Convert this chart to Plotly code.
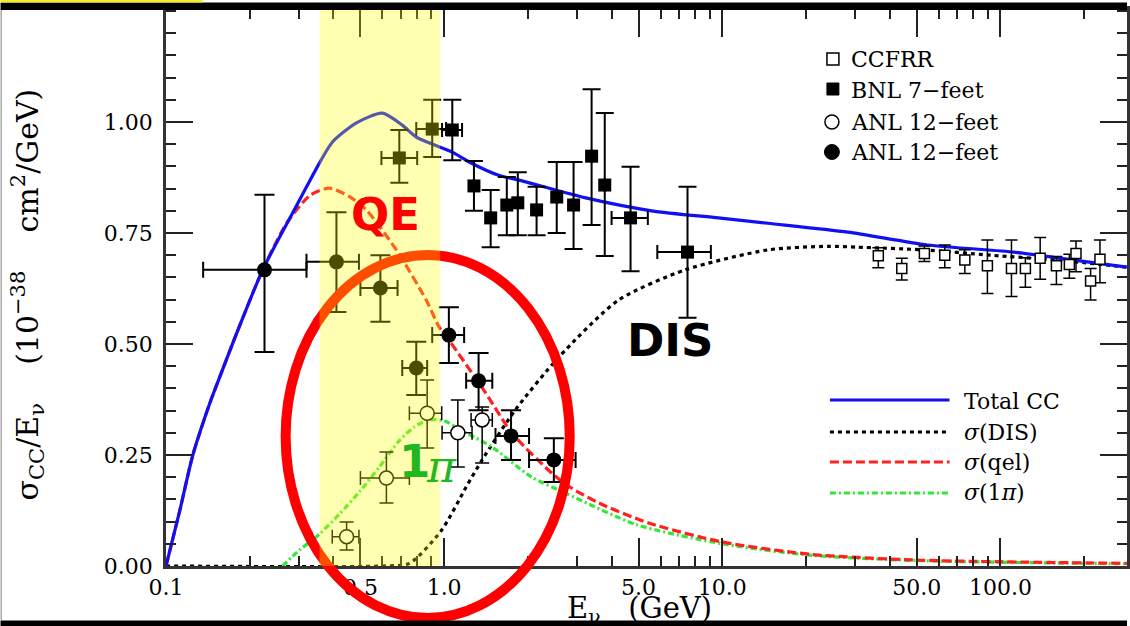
import plotly.graph_objects as go

# ---------------- model curves: sigma_CC / E_nu  (1e-38 cm^2 / GeV) ----------------
total_E = [0.1, 0.1122, 0.1249, 0.1438, 0.1561, 0.1797, 0.2227, 0.2852, 0.3201, 0.3565, 0.3969,
           0.4838, 0.5993, 0.707, 0.794, 1.07, 1.23, 1.57, 1.86, 3.23, 5.57, 9.68, 14.6, 28.3,
           54.7, 112, 160, 285]
total_sig = [0.0, 0.126, 0.25, 0.367, 0.426, 0.525, 0.667, 0.795, 0.854, 0.908, 0.955, 0.998,
             1.02, 0.993, 0.966, 0.932, 0.91, 0.88, 0.869, 0.829, 0.80, 0.784, 0.772, 0.752,
             0.723, 0.707, 0.694, 0.673]

dis_E = [0.1, 0.6, 0.75, 0.98, 1.2, 1.37, 1.8, 2.58, 4.24, 7.36, 14.6, 24, 30.7, 53, 92, 160, 285]
dis_sig = [0.0, 0.0, 0.006, 0.081, 0.178, 0.239, 0.351, 0.47, 0.599, 0.667, 0.712, 0.72, 0.718,
           0.712, 0.70, 0.689, 0.673]

qel_E = [0.1, 0.1122, 0.1249, 0.1438, 0.1561, 0.1797, 0.2227, 0.272, 0.33, 0.387, 0.457, 0.525,
         0.673, 0.862, 0.96, 1.04, 1.41, 1.75, 2.44, 2.83, 3.6, 5.43, 10, 21, 52, 285]
qel_sig = [0.0, 0.126, 0.25, 0.367, 0.426, 0.525, 0.667, 0.773, 0.835, 0.851, 0.832, 0.802, 0.712,
           0.599, 0.538, 0.509, 0.39, 0.30, 0.209, 0.178, 0.142, 0.097, 0.054, 0.026, 0.013, 0.006]

pi1_E = [0.2626, 0.3021, 0.3565, 0.4205, 0.4959, 0.5848, 0.6897, 0.7806, 0.8835, 1.0, 1.199,
         1.486, 2.067, 2.737, 4.918, 10, 21, 52, 285]
pi1_sig = [0.0, 0.036, 0.072, 0.117, 0.167, 0.223, 0.282, 0.313, 0.329, 0.327, 0.30, 0.268,
           0.20, 0.164, 0.093, 0.05, 0.024, 0.012, 0.005]

# ---------------- measurements ----------------
ccfrr_E = [36.4, 44.2, 53.3, 63.1, 74.5, 89.8, 109.6, 123, 139, 159, 177, 187, 211, 228]
ccfrr_sig = [0.699, 0.670, 0.704, 0.700, 0.689, 0.676, 0.670, 0.670, 0.693, 0.676, 0.679, 0.704,
             0.642, 0.691]
ccfrr_sig_lo = [0.672, 0.644, 0.686, 0.672, 0.659, 0.614, 0.607, 0.628, 0.646, 0.634, 0.648,
                0.663, 0.599, 0.638]
ccfrr_sig_hi = [0.717, 0.693, 0.721, 0.723, 0.712, 0.734, 0.734, 0.694, 0.740, 0.697, 0.702,
                0.732, 0.670, 0.734]

bnl_E = [0.69, 0.906, 1.07, 1.28, 1.47, 1.68, 1.84, 2.15, 2.54, 2.92, 3.39, 3.78, 4.68, 7.5]
bnl_sig = [0.919, 0.984, 0.982, 0.856, 0.784, 0.813, 0.818, 0.802, 0.831, 0.813, 0.923, 0.858,
           0.784, 0.707]
bnl_sig_lo = [0.863, 0.921, 0.914, 0.800, 0.718, 0.745, 0.745, 0.745, 0.750, 0.714, 0.768, 0.698,
              0.664, 0.559]
bnl_sig_hi = [0.982, 1.050, 1.050, 0.912, 0.847, 0.876, 0.887, 0.854, 0.910, 0.910, 1.074, 1.020,
              0.899, 0.854]
bnl_E_lo = [0.595, 0.794, 0.983, 1.28, 1.47, 1.68, 1.84, 2.15, 2.54, 2.92, 3.39, 3.78, 4.0, 5.84]
bnl_E_hi = [0.80, 1.016, 1.16, 1.28, 1.47, 1.68, 1.84, 2.15, 2.54, 2.92, 3.39, 3.78, 5.4, 9.1]

anl_open_E = [0.446, 0.62, 0.869, 1.12, 1.37]
anl_open_sig = [0.066, 0.198, 0.344, 0.300, 0.329]
anl_open_sig_lo = [0.036, 0.142, 0.266, 0.223, 0.232]
anl_open_sig_hi = [0.099, 0.257, 0.419, 0.374, 0.358]
anl_open_E_lo = [0.396, 0.50, 0.75, 0.983, 1.25]
anl_open_E_hi = [0.494, 0.75, 0.98, 1.26, 1.49]

anl_fill_E = [0.226, 0.41, 0.59, 0.794, 1.04, 1.33, 1.74, 2.48]
anl_fill_sig = [0.667, 0.685, 0.626, 0.446, 0.520, 0.417, 0.293, 0.239]
anl_fill_sig_lo = [0.482, 0.572, 0.550, 0.385, 0.457, 0.351, 0.239, 0.189]
anl_fill_sig_hi = [0.836, 0.797, 0.700, 0.505, 0.583, 0.480, 0.351, 0.288]
anl_fill_E_lo = [0.136, 0.32, 0.50, 0.707, 0.906, 1.20, 1.53, 2.02]
anl_fill_E_hi = [0.32, 0.494, 0.68, 0.869, 1.18, 1.49, 2.02, 2.97]

# ---------------- axis ticks ----------------
x_tickvals = [0.1, 0.5, 1, 5, 10, 50, 100]
x_ticktext = ["0.1", "0.5", "1.0", "5.0", "10.0", "50.0", "100.0"]
x_minor = [m * 10.0 ** d for d in (-1, 0, 1, 2) for m in (2, 3, 4, 6, 7, 8, 9)]
y_tickvals = [0.0, 0.25, 0.5, 0.75, 1.0]
y_ticktext = ["0.00", "0.25", "0.50", "0.75", "1.00"]

# ---------------- page geometry ----------------
W, H = 1130, 626
ML, MR, MT, MB = 166, 0, 9, 60
PW, PH = W - ML - MR, H - MT - MB


def px(xp):
    return (xp - ML) / PW


def py(yp):
    return (H - MB - yp) / PH


SERIF = "DejaVu Serif"
BLUE = "#1010f2"
RED = "#ff2020"
GREEN = "#33e833"


def errs(v, lo, hi):
    return dict(type="data", symmetric=False,
                array=[h - c for c, h in zip(v, hi)],
                arrayminus=[c - l for c, l in zip(v, lo)])


fig = go.Figure()

fig.add_trace(go.Scatter(x=dis_E, y=dis_sig, mode="lines", line=dict(color="black", width=3.2, dash="4px,4px", shape="spline", smoothing=0.7)))
fig.add_trace(go.Scatter(x=pi1_E, y=pi1_sig, mode="lines", line=dict(color=GREEN, width=3.2, dash="6px,3px,2px,3px", shape="spline", smoothing=0.7)))
fig.add_trace(go.Scatter(x=qel_E, y=qel_sig, mode="lines", line=dict(color=RED, width=3.2, dash="9px,4px", shape="spline", smoothing=0.7)))
fig.add_trace(go.Scatter(x=total_E, y=total_sig, mode="lines", line=dict(color=BLUE, width=3.2, shape="spline", smoothing=0.7)))

fig.add_trace(go.Scatter(
    x=ccfrr_E, y=ccfrr_sig, mode="markers",
    marker=dict(symbol="square", size=10, color="white", line=dict(color="black", width=1.5)),
    error_y=dict(**errs(ccfrr_sig, ccfrr_sig_lo, ccfrr_sig_hi), color="black", thickness=1.5, width=6)))

fig.add_trace(go.Scatter(
    x=bnl_E, y=bnl_sig, mode="markers",
    marker=dict(symbol="square", size=13, color="black"),
    error_y=dict(**errs(bnl_sig, bnl_sig_lo, bnl_sig_hi), color="black", thickness=2, width=9),
    error_x=dict(**errs(bnl_E, bnl_E_lo, bnl_E_hi), color="black", thickness=2, width=7)))

fig.add_trace(go.Scatter(
    x=anl_open_E, y=anl_open_sig, mode="markers",
    marker=dict(symbol="circle", size=14, color="white", line=dict(color="black", width=1.5)),
    error_y=dict(**errs(anl_open_sig, anl_open_sig_lo, anl_open_sig_hi), color="black", thickness=1.5, width=7),
    error_x=dict(**errs(anl_open_E, anl_open_E_lo, anl_open_E_hi), color="black", thickness=1.5, width=7)))

fig.add_trace(go.Scatter(
    x=anl_fill_E, y=anl_fill_sig, mode="markers",
    marker=dict(symbol="circle", size=15, color="black"),
    error_y=dict(**errs(anl_fill_sig, anl_fill_sig_lo, anl_fill_sig_hi), color="black", thickness=2, width=10),
    error_x=dict(**errs(anl_fill_E, anl_fill_E_lo, anl_fill_E_hi), color="black", thickness=2, width=8)))

axis_common = dict(ticks="inside", showline=True, linecolor="#333", linewidth=2.5,
                   mirror="allticks", showgrid=False, zeroline=False, tickcolor="#222",
                   tickwidth=1.5, tickfont=dict(family=SERIF, size=22, color="black"))

fig.update_xaxes(type="log", range=[-1, -1 + PW / 279.0], tickmode="array",
                 tickvals=x_tickvals, ticktext=x_ticktext, ticklen=28,
                 minor=dict(tickmode="array", tickvals=x_minor, ticks="inside", ticklen=10,
                            tickwidth=1.5, tickcolor="#222", showgrid=False),
                 **axis_common)
fig.update_yaxes(range=[0, PH / 444.0], tickmode="array", tickvals=y_tickvals,
                 ticktext=y_ticktext, ticklen=27, ticklabelstandoff=6,
                 minor=dict(dtick=0.05, ticks="inside", ticklen=10, tickwidth=1.5,
                            tickcolor="#222", showgrid=False),
                 **axis_common)

shapes = []
# red ring around the low-energy region
shapes.append(dict(type="circle", xref="paper", yref="paper", layer="above",
                   x0=px(286), x1=px(571), y0=py(618), y1=py(255),
                   line=dict(color="#ff0000", width=10)))
# highlighted energy band
shapes.append(dict(type="rect", xref="paper", yref="paper", layer="above",
                   x0=px(320), x1=px(441), y0=0, y1=1,
                   fillcolor="rgba(255,255,0,0.30)", line=dict(width=0)))
# frame bars
shapes.append(dict(type="rect", xref="paper", yref="paper", layer="above",
                   x0=px(0), x1=px(W), y0=py(10), y1=py(2.5), fillcolor="black", line=dict(width=0)))
shapes.append(dict(type="rect", xref="paper", yref="paper", layer="above",
                   x0=px(0), x1=px(W), y0=py(H), y1=py(620.5), fillcolor="black", line=dict(width=0)))
shapes.append(dict(type="rect", xref="paper", yref="paper", layer="above",
                   x0=px(0), x1=px(203), y0=py(2.5), y1=py(0), fillcolor="#f2ef2a", line=dict(width=0)))
shapes.append(dict(type="line", xref="paper", yref="paper", layer="above",
                   x0=px(0.7), x1=px(0.7), y0=py(620), y1=py(10), line=dict(color="#aaaaaa", width=1.5)))

# legend: data symbols
shapes.append(dict(type="rect", xref="paper", yref="paper", layer="above",
                   x0=px(829), x1=px(841), y0=py(65), y1=py(53), fillcolor="white",
                   line=dict(color="black", width=1.5)))
shapes.append(dict(type="rect", xref="paper", yref="paper", layer="above",
                   x0=px(829), x1=px(841), y0=py(95), y1=py(83), fillcolor="black",
                   line=dict(color="black", width=1)))
shapes.append(dict(type="circle", xref="paper", yref="paper", layer="above",
                   x0=px(827), x1=px(841), y0=py(129), y1=py(115), fillcolor="white",
                   line=dict(color="black", width=1.5)))
shapes.append(dict(type="circle", xref="paper", yref="paper", layer="above",
                   x0=px(826.5), x1=px(841.5), y0=py(159.5), y1=py(144.5), fillcolor="black",
                   line=dict(color="black", width=1)))

# legend: model curves
legend_lines = [(400, BLUE, "solid"), (432, "black", "4px,4px"),
                (462, RED, "9px,4px"), (493, GREEN, "6px,3px,2px,3px")]
for yy, col, dash in legend_lines:
    shapes.append(dict(type="line", xref="paper", yref="paper", layer="above",
                       x0=px(832), x1=px(952), y0=py(yy), y1=py(yy),
                       line=dict(color=col, width=3.2, dash=dash)))


def note(xp, yp, text, size, color="black", family=SERIF, xanchor="center", angle=0):
    return dict(x=px(xp), y=py(yp), xref="paper", yref="paper", text=text, showarrow=False,
                xanchor=xanchor, yanchor="middle", textangle=angle,
                font=dict(family=family, size=size, color=color))


annotations = []
sym_labels = [(59, "CCFRR"), (91, "BNL 7\u2212feet"), (122, "ANL 12\u2212feet"), (152, "ANL 12\u2212feet")]
for yy, txt in sym_labels:
    annotations.append(note(851, yy, txt, 22, xanchor="left"))
curve_labels = [(401, "Total CC"), (432, "<i>\u03c3</i>(DIS)"), (462, "<i>\u03c3</i>(qel)"),
                (492, "<i>\u03c3</i>(1<i>\u03c0</i>)")]
for yy, txt in curve_labels:
    annotations.append(note(964, yy, txt, 22, xanchor="left"))

annotations.append(note(386, 214, "<b>QE</b>", 45, color="#ff0000", family="DejaVu Sans"))
annotations.append(note(672, 340, "<b>DIS</b>", 45, family="DejaVu Sans"))
annotations.append(note(415, 461, "<b>1</b>", 45, color="#1fb81f", family="DejaVu Sans"))
annotations.append(note(442, 466, "<i>\u03c0</i>", 44, color="#1fb81f", family=SERIF))

# axis titles
annotations.append(note(641, 610, "E<sub>\u03bd</sub>\u00a0\u00a0\u00a0(GeV)", 29))
annotations.append(note(27, 294,
                        "\u03c3<sub>CC</sub>/E<sub>\u03bd</sub>\u00a0\u00a0\u00a0\u00a0(10<sup>\u221238</sup>\u00a0\u00a0\u00a0\u00a0cm<sup>2</sup>/GeV)",
                        30, angle=-90))

fig.update_layout(width=W, height=H, margin=dict(l=ML, r=MR, t=MT, b=MB),
                  paper_bgcolor="white", plot_bgcolor="white", showlegend=False,
                  shapes=shapes, annotations=annotations)

fig.write_html("out.html")
